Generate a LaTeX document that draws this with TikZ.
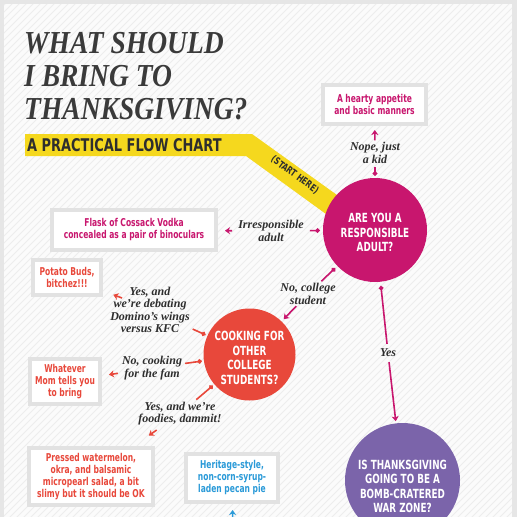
\documentclass[tikz,border=0pt]{standalone}
\usepackage{fontspec}
\usetikzlibrary{arrows.meta}
\newfontfamily\titlefont{Liberation Serif}[FakeStretch=0.86]
\newfontfamily\condfont{DejaVu Sans}[FakeStretch=0.74]
\newfontfamily\boxfont{DejaVu Sans}[FakeStretch=0.70]
\newfontfamily\circfont{DejaVu Sans}[FakeStretch=0.70]
\newfontfamily\labfont{Liberation Serif}
\definecolor{mag}{HTML}{C8166E}
\definecolor{redq}{HTML}{E8483B}
\definecolor{purp}{HTML}{7B64AA}
\definecolor{blueq}{HTML}{2A9AD8}
\definecolor{yel}{HTML}{F5D81E}
\definecolor{titlegray}{HTML}{3A3A3A}
\definecolor{labgray}{HTML}{2E2E2E}
\definecolor{boxgray}{HTML}{E2E2E2}
\definecolor{framegray}{HTML}{E6E6E6}
\definecolor{paper}{HTML}{FBFBFB}
\definecolor{stripe}{HTML}{EDEDED}
\tikzset{
  qcirc/.style={circle, fill=#1, draw=none, inner sep=0pt},
  qtext/.style={text=white, font=\circfont\bfseries\fontsize{12.6}{14.5}\selectfont, align=center, inner sep=0pt},
  abox/.style={draw=boxgray, line width=4pt, fill=white, text=#1, font=\boxfont\bfseries\fontsize{10.8}{12}\selectfont, align=center, inner sep=0pt},
  lab/.style={font=\labfont\bfseries\itshape\fontsize{12}{12.5}\selectfont, text=labgray, align=center, inner sep=0pt},
  arr/.style={draw=#1, line width=1.6pt, -{Stealth[length=5pt,width=7pt,inset=1.5pt]}},
  stub/.style={draw=#1, line width=1.6pt, {Circle[length=4.5pt]}-},
  ttl/.style={font=\titlefont\bfseries\itshape\fontsize{32}{32}\selectfont, text=titlegray, inner sep=0pt, anchor=base west},
}
\begin{document}
\begin{tikzpicture}[x=1pt,y=-1pt]
\useasboundingbox (0,0) rectangle (517,517);
% frame and striped paper
\fill[framegray] (0,0) rectangle (517,517);
\fill[paper] (4,4) rectangle (512,520);
\begin{scope}
  \clip (4,4) rectangle (512,520);
  \foreach \i in {-525,-518,...,525} \draw[stripe, line width=0.9pt] (\i,520) -- (\i+520,0);
\end{scope}
% title
\node[ttl] (T1) at (24,53) {WHAT SHOULD};
\node[ttl] (T2) at (24,86) {I BRING TO};
\node[ttl] (T3) at (24,119) {THANKSGIVING?};
% yellow banner
\fill[yel] (25,134) -- (252,134) -- (360,211.5) -- (345,227.8) -- (246,156) -- (25,156) -- cycle;
\node[anchor=base west, font=\condfont\bfseries\fontsize{17.5}{18}\selectfont, text=labgray, inner sep=0pt] (SUB) at (27,151.5) {A PRACTICAL FLOW CHART};
\node[rotate=-36, font=\condfont\bfseries\fontsize{9.8}{10}\selectfont, text=labgray, inner sep=0pt] (START) at (295,175) {(START HERE)};
% question circles
\node[qcirc=mag, minimum size=104pt] (Q1) at (375,230) {};
\node[qtext] (Q1t) at (375,232.5) {ARE YOU A\\RESPONSIBLE\\ADULT?};
\node[qcirc=redq, minimum size=92pt] (Q2) at (249.5,354.5) {};
\node[qtext] (Q2t) at (249.5,358) {COOKING FOR\\OTHER\\COLLEGE\\STUDENTS?};
\node[qcirc=purp, minimum size=115pt] (Q3) at (402.5,480.5) {};
\node[qtext] (Q3t) at (402.5,486.5) {IS THANKSGIVING\\GOING TO BE A\\BOMB-CRATERED\\WAR ZONE?};
% answer boxes
\node[abox=mag, minimum width=103pt, minimum height=39pt] (B1) at (374.5,104.5) {A hearty appetite\\and basic manners};
\node[abox=mag, minimum width=164pt, minimum height=40pt] (B2) at (134,230) {Flask of Cossack Vodka\\concealed as a pair of binoculars};
\node[abox=redq, minimum width=68pt, minimum height=35pt] (B3) at (67,277.5) {Potato Buds,\\bitchez!!!};
\node[abox=redq, minimum width=70pt, minimum height=45pt] (B4) at (65,381.5) {Whatever\\Mom tells you\\to bring};
\node[abox=redq, minimum width=124pt, minimum height=57pt] (B5) at (91,476.5) {Pressed watermelon,\\okra, and balsamic\\micropearl salad, a bit\\slimy but it should be OK};
\node[abox=blueq, minimum width=92pt, minimum height=48pt] (B6) at (232,478) {Heritage-style,\\non-corn-syrup-\\laden pecan pie};
% labels
\node[lab] (L1) at (375,153) {Nope, just\\a kid};
\node[lab] (L2) at (271,231) {Irresponsible\\adult};
\node[lab] (L3) at (308,294) {No, college\\student};
\node[lab] (L4) at (388,353) {Yes};
\node[lab] (L5) at (150,310) {Yes, and\\we’re debating\\Domino’s wings\\versus KFC};
\node[lab] (L6) at (152,368) {No, cooking\\for the fam};
\node[lab] (L7) at (180,413.5) {Yes, and we’re\\foodies, dammit!};
\coordinate (a5) at (122,298);
\coordinate (p1) at (300,560);
\coordinate (p2) at (233,540);
% connectors
\draw[stub=mag, shorten <=2pt, shorten >=3pt] (Q1) -- (L1);
\draw[arr=mag, shorten <=2pt, shorten >=4pt] (L1) -- (B1);
\draw[stub=mag, shorten <=3pt, shorten >=6pt] (Q1) -- (L2);
\draw[arr=mag, shorten <=6pt, shorten >=7pt] (L2) -- (B2);
\draw[stub=mag, shorten <=3pt, shorten >=3pt] (Q1) -- (L3);
\draw[arr=mag, shorten <=2pt, shorten >=3pt] (L3) -- (Q2);
\draw[stub=mag, shorten <=4pt, shorten >=5pt] (Q1) -- (L4);
\draw[arr=mag, shorten <=5pt, shorten >=2pt] (L4) -- (Q3);
\draw[stub=redq, shorten <=2pt, shorten >=3pt] (Q2) -- (L5);
\draw[arr=redq, shorten >=11pt] (a5) -- (B3);
\draw[stub=redq, shorten <=2pt, shorten >=3pt] (Q2) -- (L6);
\draw[arr=redq, shorten <=4pt, shorten >=7pt] (L6) -- (B4);
\draw[stub=redq, shorten <=2pt, shorten >=3pt] (Q2) -- (L7);
\draw[arr=redq, shorten <=8pt, shorten >=18pt] (L7) -- (B5);
\draw[stub=purp, shorten <=3pt] (Q3) -- (p1);
\draw[arr=blueq, shorten >=6pt] (p2) -- (B6);
\end{tikzpicture}
\end{document}
